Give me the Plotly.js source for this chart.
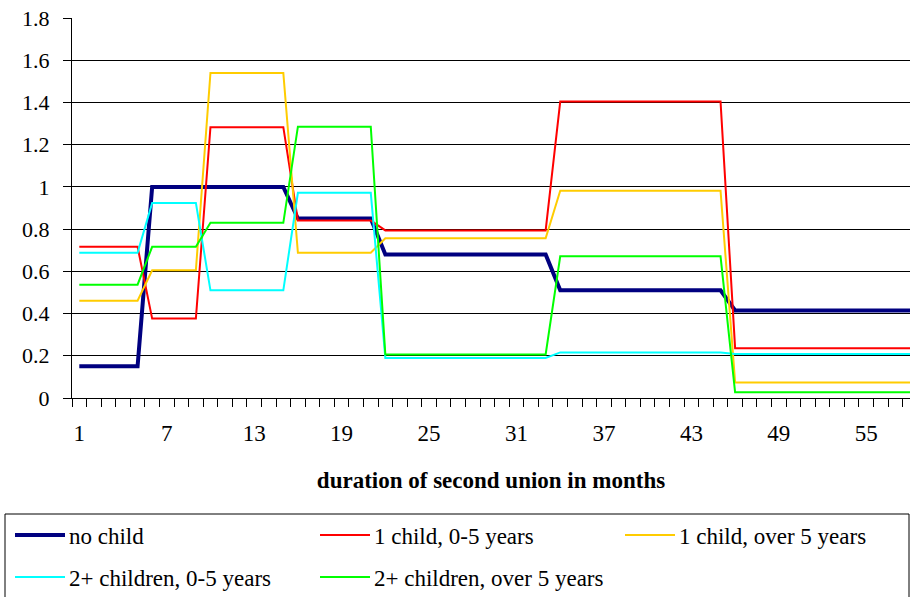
<!DOCTYPE html>
<html>
<head>
<meta charset="utf-8">
<script src="https://cdn.plot.ly/plotly-3.0.1.min.js"></script>
<style>
  html, body { margin: 0; padding: 0; background: #ffffff; }
  #chart { width: 910px; height: 597px; }
</style>
</head>
<body>
<div id="chart"></div>
<script>
// ---- data ----
const months = [1,2,3,4,5,6,7,8,9,10,11,12,13,14,15,16,17,18,19,20,21,22,23,24,25,26,27,28,29,
  30,31,32,33,34,35,36,37,38,39,40,41,42,43,44,45,46,47,48,49,50,51,52,53,54,55,56,57,58];

const noChild = [0.15,0.15,0.15,0.15,0.15,
  1.0,1.0,1.0,1.0,1.0,1.0,1.0,1.0,1.0,1.0,
  0.85,0.85,0.85,0.85,0.85,0.85,
  0.68,0.68,0.68,0.68,0.68,0.68,0.68,0.68,0.68,0.68,0.68,0.68,
  0.51,0.51,0.51,0.51,0.51,0.51,0.51,0.51,0.51,0.51,0.51,0.51,
  0.415,0.415,0.415,0.415,0.415,0.415,0.415,0.415,0.415,0.415,0.415,0.415,0.415];

const oneChild05 = [0.716,0.716,0.716,0.716,0.716,
  0.376,0.376,0.376,0.376,
  1.283,1.283,1.283,1.283,1.283,1.283,
  0.841,0.841,0.841,0.841,0.841,0.841,
  0.794,0.794,0.794,0.794,0.794,0.794,0.794,0.794,0.794,0.794,0.794,0.794,
  1.404,1.404,1.404,1.404,1.404,1.404,1.404,1.404,1.404,1.404,1.404,1.404,
  0.236,0.236,0.236,0.236,0.236,0.236,0.236,0.236,0.236,0.236,0.236,0.236,0.236];

const oneChildOver5 = [0.461,0.461,0.461,0.461,0.461,
  0.605,0.605,0.605,0.605,
  1.54,1.54,1.54,1.54,1.54,1.54,
  0.688,0.688,0.688,0.688,0.688,0.688,
  0.757,0.757,0.757,0.757,0.757,0.757,0.757,0.757,0.757,0.757,0.757,0.757,
  0.982,0.982,0.982,0.982,0.982,0.982,0.982,0.982,0.982,0.982,0.982,0.982,
  0.074,0.074,0.074,0.074,0.074,0.074,0.074,0.074,0.074,0.074,0.074,0.074,0.074];

const twoChildren05 = [0.688,0.688,0.688,0.688,0.688,
  0.924,0.924,0.924,0.924,
  0.51,0.51,0.51,0.51,0.51,0.51,
  0.972,0.972,0.972,0.972,0.972,0.972,
  0.19,0.19,0.19,0.19,0.19,0.19,0.19,0.19,0.19,0.19,0.19,0.19,
  0.216,0.216,0.216,0.216,0.216,0.216,0.216,0.216,0.216,0.216,0.216,0.216,
  0.208,0.208,0.208,0.208,0.208,0.208,0.208,0.208,0.208,0.208,0.208,0.208,0.208];

const twoChildrenOver5 = [0.537,0.537,0.537,0.537,0.537,
  0.716,0.716,0.716,0.716,
  0.83,0.83,0.83,0.83,0.83,0.83,
  1.285,1.285,1.285,1.285,1.285,1.285,
  0.206,0.206,0.206,0.206,0.206,0.206,0.206,0.206,0.206,0.206,0.206,0.206,
  0.671,0.671,0.671,0.671,0.671,0.671,0.671,0.671,0.671,0.671,0.671,0.671,
  0.027,0.027,0.027,0.027,0.027,0.027,0.027,0.027,0.027,0.027,0.027,0.027,0.027];

const seriesNames = ['no child','1 child, 0-5 years','1 child, over 5 years',
  '2+ children, 0-5 years','2+ children, over 5 years'];
const seriesValues = [noChild, oneChild05, oneChildOver5, twoChildren05, twoChildrenOver5];

const xTickVals = [1,7,13,19,25,31,37,43,49,55];
const xTickText = ['1','7','13','19','25','31','37','43','49','55'];
const yTickVals = [0,0.2,0.4,0.6,0.8,1,1.2,1.4,1.6,1.8];
const yTickText = ['0','0.2','0.4','0.6','0.8','1','1.2','1.4','1.6','1.8'];

const xTitle = 'duration of second union in months';

// ---- styles ----
const colors = ['#000080','#FF0000','#FFCC00','#00FFFF','#00FF00'];
const widths = [4,2,2,2,2];
const FONT = 'Liberation Serif';

const W = 910, H = 597;
const M = {l:72, r:0, t:18, b:199};
const plotW = W - M.l - M.r, plotH = H - M.t - M.b;
const px2x = px => (px - M.l) / plotW;
const py2y = py => (H - M.b - py) / plotH;

const traces = seriesValues.map((vals, i) => ({
  type: 'scatter', mode: 'lines',
  x: months, y: vals, name: seriesNames[i],
  line: {color: colors[i], width: widths[i]},
  showlegend: false, hoverinfo: 'x+y+name'
}));

// Excel-like legend box below the plot
const shapes = [{
  type: 'rect', xref: 'paper', yref: 'paper',
  x0: px2x(5), x1: px2x(909), y0: py2y(514), y1: py2y(605),
  line: {color: '#000000', width: 1}, fillcolor: 'rgba(0,0,0,0)'
}];
const annotations = [];
const legPos = [[15,535],[320,535],[625,535],[15,577],[320,577]];
seriesNames.forEach((nm, i) => {
  const [lx, ly] = legPos[i];
  shapes.push({
    type: 'line', xref: 'paper', yref: 'paper',
    x0: px2x(lx), x1: px2x(lx + 50), y0: py2y(ly), y1: py2y(ly),
    line: {color: colors[i], width: widths[i]}
  });
  annotations.push({
    xref: 'paper', yref: 'paper', x: px2x(lx + 52), y: py2y(ly + 1),
    xanchor: 'left', yanchor: 'middle', showarrow: false,
    text: nm, font: {family: FONT, size: 23, color: '#000000'}
  });
});

const layout = {
  width: W, height: H,
  margin: M,
  paper_bgcolor: '#ffffff', plot_bgcolor: '#ffffff',
  showlegend: false,
  xaxis: {
    range: [0.5, 58.0], fixedrange: true,
    tickmode: 'array', tickvals: xTickVals, ticktext: xTickText,
    ticks: '', ticklabelstandoff: 14,
    tickfont: {family: FONT, size: 23, color: '#000000'},
    showgrid: false, zeroline: false,
    showline: true, linecolor: '#000000', linewidth: 1,
    minor: {tickmode: 'linear', tick0: 0.5, dtick: 1, ticks: 'outside',
            ticklen: 8, tickcolor: '#000000', tickwidth: 1, showgrid: false},
    title: {text: '<b>' + xTitle + '</b>', standoff: 27,
            font: {family: FONT, size: 23, color: '#000000'}},
    automargin: false
  },
  yaxis: {
    range: [0, 1.8], fixedrange: true,
    tickmode: 'array', tickvals: yTickVals, ticktext: yTickText,
    ticks: 'outside', ticklen: 8, tickcolor: '#000000', tickwidth: 1,
    ticklabelstandoff: 9,
    tickfont: {family: FONT, size: 22, color: '#000000'},
    showgrid: true, gridcolor: '#000000', gridwidth: 1,
    zeroline: false, showline: true, linecolor: '#000000', linewidth: 1,
    automargin: false
  },
  shapes: shapes,
  annotations: annotations
};

Plotly.newPlot('chart', traces, layout, {displayModeBar: false});
</script>
</body>
</html>
